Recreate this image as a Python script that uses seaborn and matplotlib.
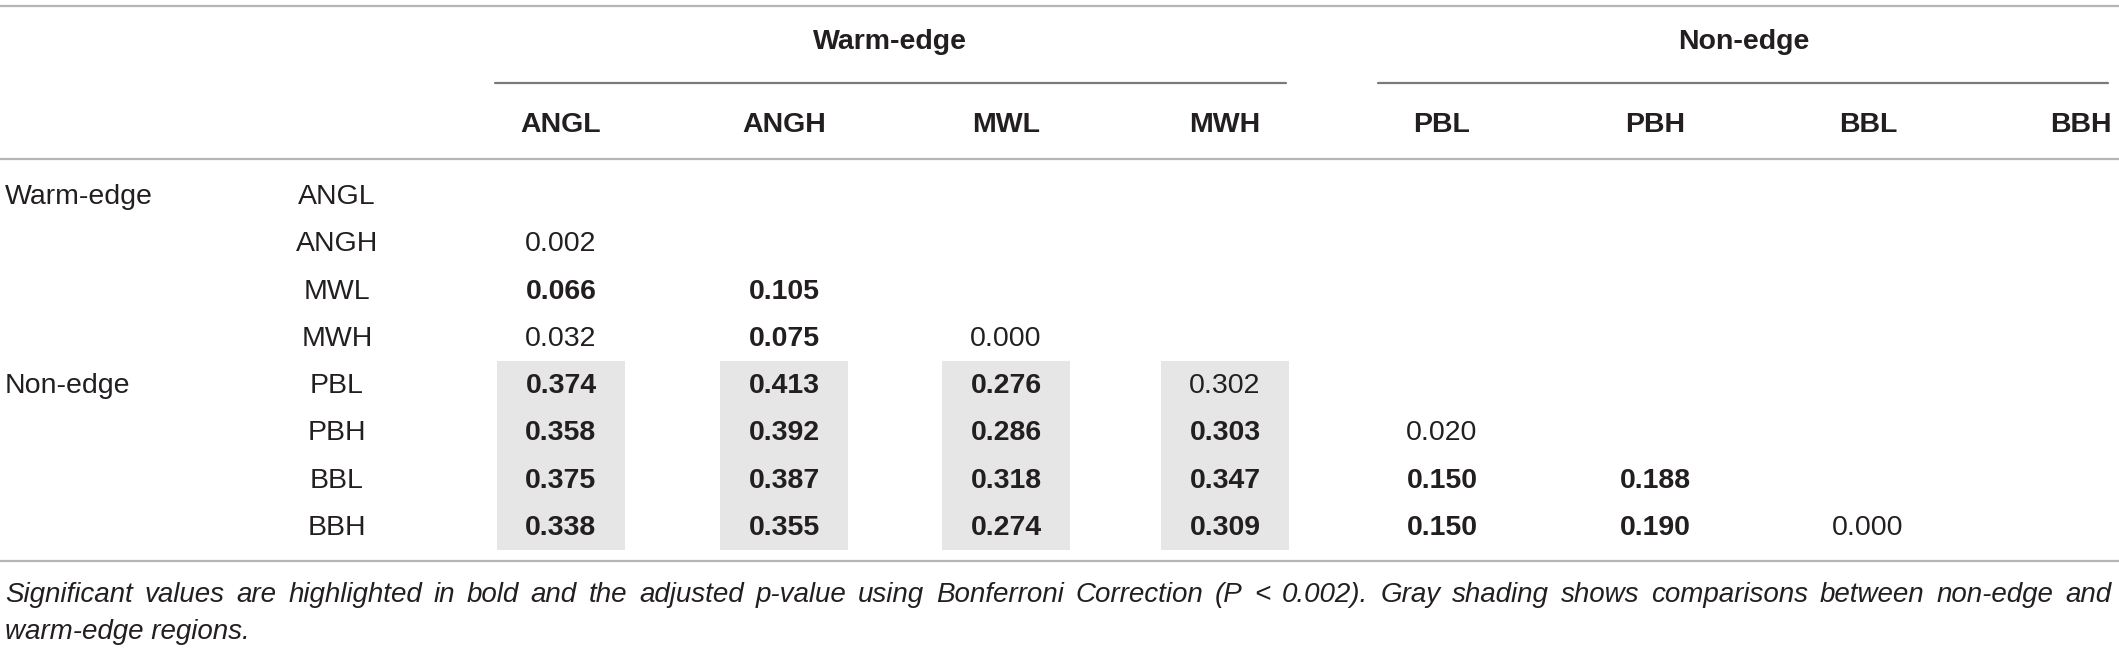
import numpy as np
import matplotlib
matplotlib.use("Agg")
import matplotlib.pyplot as plt
import seaborn as sns

# table content
groups = ["Warm-edge", "Non-edge"]
sites = ["ANGL", "ANGH", "MWL", "MWH", "PBL", "PBH", "BBL", "BBH"]
row_group = ["Warm-edge", "", "", "", "Non-edge", "", "", ""]

# lower triangle of the matrix, one list per row
values = [
    [],
    [0.002],
    [0.066, 0.105],
    [0.032, 0.075, 0.000],
    [0.374, 0.413, 0.276, 0.302],
    [0.358, 0.392, 0.286, 0.303, 0.020],
    [0.375, 0.387, 0.318, 0.347, 0.150, 0.188],
    [0.338, 0.355, 0.274, 0.309, 0.150, 0.190, 0.000],
]
significant = [
    [],
    [False],
    [True, True],
    [False, True, False],
    [True, True, True, False],
    [True, True, True, True, False],
    [True, True, True, True, True, True],
    [True, True, True, True, True, True, False],
]
shaded_rows = ["PBL", "PBH", "BBL", "BBH"]
shaded_cols = ["ANGL", "ANGH", "MWL", "MWH"]

caption_lines = [
    "Significant values are highlighted in bold and the adjusted p-value using "
    "Bonferroni Correction (P < 0.002). Gray shading shows comparisons between non-edge and",
    "warm-edge regions.",
]

sns.set_theme(style="white")
plt.rcParams['font.family'] = ['Liberation Sans', 'DejaVu Sans']

W, H = 2119, 649
fig = plt.figure(figsize=(W / 100, H / 100), dpi=100)
ax = fig.add_axes([0, 0, 1, 1])
ax.set_xlim(0, W)
ax.set_ylim(H, 0)
ax.axis("off")

ink = "#231f20"
fs = 20.5

# layout in pixel units
col_x = np.array([561, 784, 1006, 1225, 1442, 1655, 1868, 2081])
row_y = 195 + 47.3 * np.arange(len(sites))
label_x = 337
half_row = 23.6

# gray shading between non-edge and warm-edge
r0 = sites.index(shaded_rows[0])
r1 = sites.index(shaded_rows[-1])
for c in shaded_cols:
    i = sites.index(c)
    ax.bar(col_x[i], row_y[r1] - row_y[r0] + 2 * half_row, bottom=row_y[r0] - half_row,
           width=128, color="#e6e6e6", linewidth=0, zorder=0)

# rules
ax.plot([0, W], [6, 6], color="#b5b5b5", lw=1.6)
ax.plot([0, W], [159, 159], color="#b5b5b5", lw=1.6)
ax.plot([0, W], [561, 561], color="#b5b5b5", lw=1.6)
ax.plot([495, 1286], [83, 83], color="#7a7a7a", lw=1.6)
ax.plot([1378, 2108], [83, 83], color="#7a7a7a", lw=1.6)

# header
ax.text(890, 42, groups[0], ha="center", va="center", fontsize=fs, fontweight="bold", color=ink)
ax.text(1744, 42, groups[1], ha="center", va="center", fontsize=fs, fontweight="bold", color=ink)
for x, s in zip(col_x, sites):
    ax.text(x, 125, s, ha="center", va="center", fontsize=fs, fontweight="bold", color=ink)

# body
for r, s in enumerate(sites):
    y = row_y[r] + 2
    if row_group[r]:
        ax.text(5, y, row_group[r], ha="left", va="center", fontsize=fs, color=ink)
    ax.text(label_x, y, s, ha="center", va="center", fontsize=fs, color=ink)
    for c, (v, b) in enumerate(zip(values[r], significant[r])):
        ax.text(col_x[c], y, f"{v:.3f}", ha="center", va="center", fontsize=fs,
                fontweight="bold" if b else "normal", color=ink)

# caption, first line justified across the full width
renderer = fig.canvas.get_renderer()
cap_fs = 20
left, right = 5, 2111
for k, line in enumerate(caption_lines):
    y = 595 + 37 * k
    if k < len(caption_lines) - 1:
        words = line.split(" ")
        arts = [ax.text(0, y, w, ha="left", va="center", fontsize=cap_fs,
                        style="italic", color=ink) for w in words]
        widths = [a.get_window_extent(renderer).width for a in arts]
        gap = (right - left - sum(widths)) / (len(words) - 1)
        x = left
        for a, w in zip(arts, widths):
            a.set_x(x)
            x += w + gap
    else:
        ax.text(left, y, line, ha="left", va="center", fontsize=cap_fs,
                style="italic", color=ink)

fig.savefig("out.png", dpi=100)
